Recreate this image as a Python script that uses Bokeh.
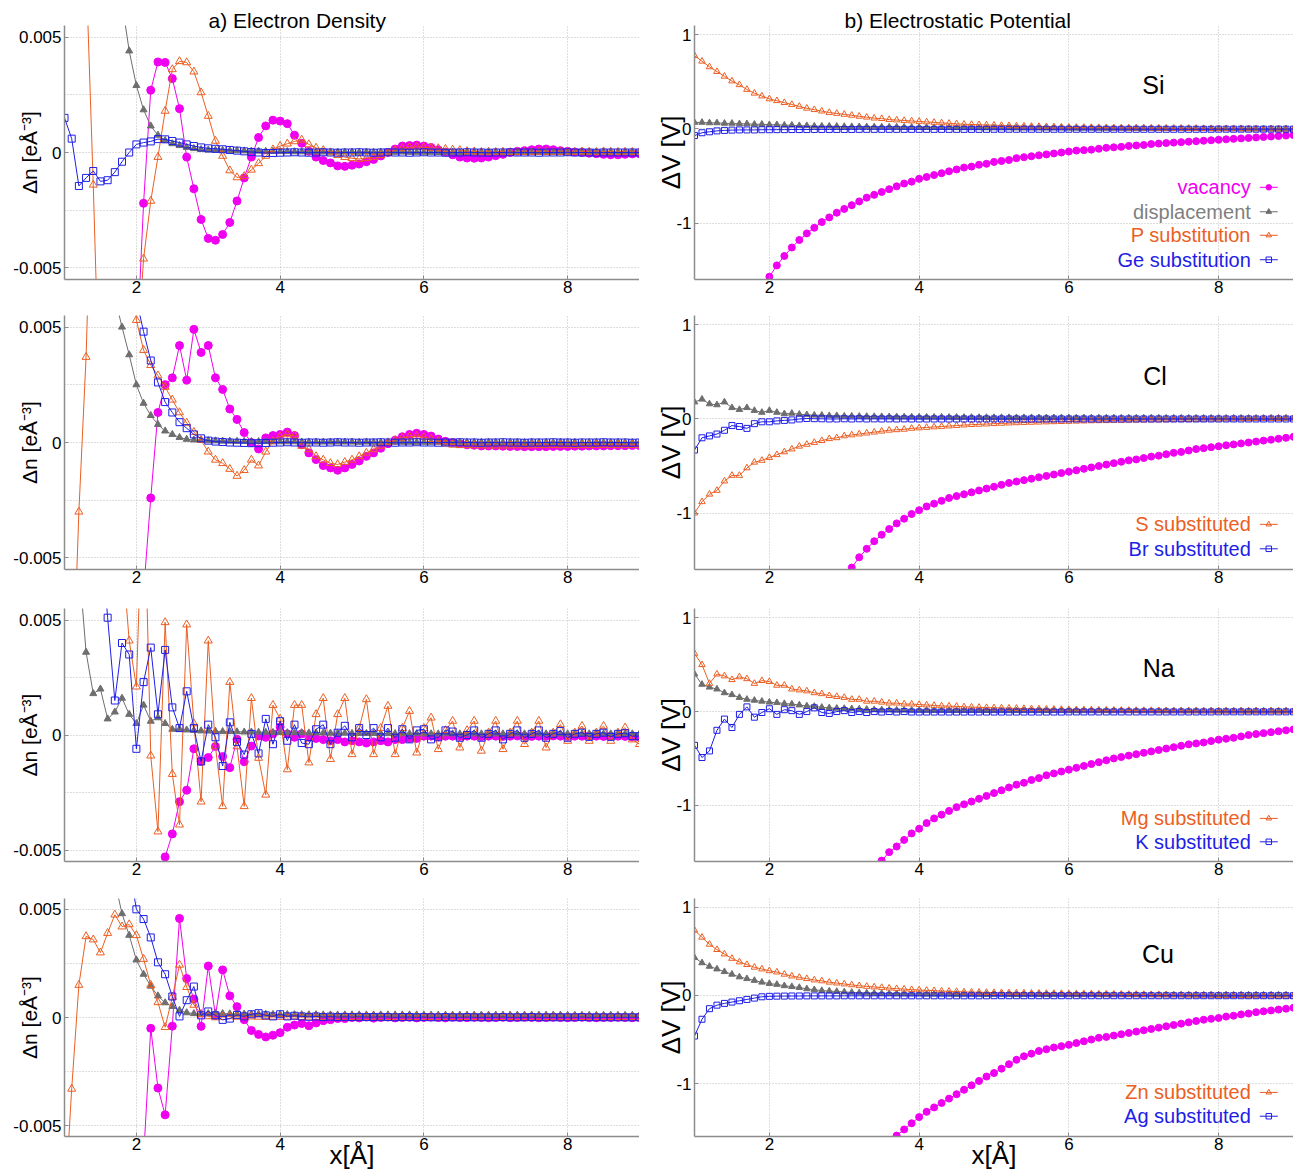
import numpy as np
from bokeh.plotting import figure
from bokeh.models import Range1d, FixedTicker, Label
from bokeh.layouts import column, row
from bokeh.embed import file_html
from bokeh.resources import INLINE

FONT = "Liberation Sans"

# radial distance [Å]
X = [1.0,1.1,1.2,1.3,1.4,1.5,1.6,1.7,1.8,1.9,
     2.0,2.1,2.2,2.3,2.4,2.5,2.6,2.7,2.8,2.9,
     3.0,3.1,3.2,3.3,3.4,3.5,3.6,3.7,3.8,3.9,
     4.0,4.1,4.2,4.3,4.4,4.5,4.6,4.7,4.8,4.9,
     5.0,5.1,5.2,5.3,5.4,5.5,5.6,5.7,5.8,5.9,
     6.0,6.1,6.2,6.3,6.4,6.5,6.6,6.7,6.8,6.9,
     7.0,7.1,7.2,7.3,7.4,7.5,7.6,7.7,7.8,7.9,
     8.0,8.1,8.2,8.3,8.4,8.5,8.6,8.7,8.8,8.9,
     9.0]

# ---------------- Si ----------------
# electron density change, in units of 1e-3 e/Å^3
si_dn_vac = [-40,-38,-35,-32,-28,-25,-22,-18,-15,-12,
             -9,-2.2,2.7,3.92,3.9,3.2,1.9,-0.2,-1.57,-2.9,
             -3.72,-3.8,-3.55,-3.03,-2.1,-1.1,-0.2,0.65,1.15,1.4,
             1.36,1.25,0.75,0.4,0.05,-0.2,-0.35,-0.45,-0.58,-0.6,
             -0.55,-0.5,-0.4,-0.3,-0.15,0.0,0.15,0.28,0.3,0.32,
             0.28,0.22,0.12,0.02,-0.1,-0.2,-0.24,-0.25,-0.24,-0.2,
             -0.14,-0.08,0.0,0.05,0.08,0.12,0.15,0.15,0.12,0.08,
             0.05,0.02,0.0,-0.03,-0.05,-0.08,-0.1,-0.1,-0.08,-0.06,
             -0.05]
si_dn_disp = [60,45,35,27,20,15,11,8.5,6.5,4.4,
              2.9,1.85,1.15,0.75,0.52,0.38,0.3,0.22,0.17,0.13,
              0.11,0.1,0.09,0.08,0.08,0.07,0.06,0.06,0.05,0.05,
              0.04,0.04,0.03,0.03,0.03,0.02,0.02,0.02,0.02,0.02,
              0.02,0.01,0.02,0.01,0.02,0.01,0.01,0.02,0.01,0.01,
              0.01,0.01,0.0,0.01,0.01,0.0,0.01,0.0,0.01,0.0,
              0.01,0.0,0.01,0.0,0.0,0.01,0.0,0.0,0.01,0.0,
              0.0,0.01,0.0,0.0,0.0,0.01,0.0,0.0,0.0,0.0,
              0.0]
si_dn_p = [30,25,18,8,-1.4,-12,-20,-22,-20,-15,
           -9.5,-4.6,-2.1,-0.2,1.8,3.6,3.95,3.9,3.5,2.6,
           1.58,0.5,-0.15,-0.78,-1.08,-1.03,-0.75,-0.47,-0.15,0.13,
           0.28,0.38,0.48,0.55,0.35,0.2,0.1,0.0,-0.12,-0.2,
           -0.25,-0.28,-0.25,-0.2,-0.12,-0.02,0.1,0.18,0.22,0.25,
           0.22,0.2,0.18,0.15,0.12,0.1,0.05,0.04,0.02,0.03,
           0.02,0.03,0.01,0.02,0.01,0.02,0.03,0.02,0.01,0.02,
           0.03,0.02,0.04,0.03,0.02,0.04,0.03,0.02,0.03,0.02,
           0.02]
si_dn_ge = [1.5,0.6,-1.45,-1.1,-0.8,-1.25,-1.2,-0.85,-0.4,0.0,
            0.35,0.43,0.48,0.58,0.57,0.5,0.43,0.35,0.28,0.22,
            0.18,0.16,0.14,0.11,0.08,0.05,0.02,0.0,-0.02,-0.02,
            -0.01,0.0,0.01,0.0,-0.01,0.0,0.01,0.0,-0.01,0.0,
            0.0,0.01,0.0,-0.01,0.0,0.01,0.0,0.0,-0.01,0.0,
            0.01,0.0,0.0,-0.01,0.0,0.0,0.01,0.0,0.0,-0.01,
            0.0,0.0,0.01,0.0,0.0,0.0,-0.01,0.0,0.0,0.0,
            0.01,0.0,0.0,0.0,-0.01,0.0,0.0,0.0,0.0,0.0,
            0.0]
# electrostatic potential change [V]
si_dv_vac = [-4.8,-4.2,-3.7,-3.3,-2.9,-2.6,-2.35,-2.1,-1.9,-1.72,
             -1.57,-1.45,-1.35,-1.26,-1.18,-1.11,-1.05,-0.99,-0.94,-0.89,
             -0.85,-0.81,-0.77,-0.73,-0.70,-0.67,-0.64,-0.61,-0.58,-0.56,
             -0.53,-0.51,-0.49,-0.47,-0.45,-0.43,-0.41,-0.40,-0.38,-0.37,
             -0.35,-0.34,-0.33,-0.31,-0.30,-0.29,-0.28,-0.27,-0.26,-0.25,
             -0.24,-0.23,-0.225,-0.22,-0.21,-0.20,-0.195,-0.19,-0.18,-0.175,
             -0.17,-0.16,-0.155,-0.15,-0.145,-0.14,-0.135,-0.13,-0.125,-0.12,
             -0.115,-0.11,-0.105,-0.10,-0.095,-0.09,-0.085,-0.08,-0.075,-0.07,
             -0.065]
si_dv_disp = [0.07,0.07,0.065,0.065,0.06,0.06,0.055,0.055,0.05,0.05,
              0.045,0.045,0.04,0.04,0.035,0.035,0.03,0.03,0.03,0.028,
              0.026,0.025,0.024,0.023,0.022,0.021,0.02,0.02,0.019,0.018,
              0.017,0.016,0.015,0.015,0.014,0.013,0.013,0.012,0.012,0.011,
              0.011,0.01,0.01,0.01,0.009,0.009,0.009,0.008,0.008,0.008,
              0.007,0.007,0.007,0.007,0.006,0.006,0.006,0.006,0.005,0.005,
              0.005,0.005,0.005,0.004,0.004,0.004,0.004,0.004,0.003,0.003,
              0.003,0.003,0.003,0.003,0.002,0.002,0.002,0.002,0.002,0.002,
              0.002]
si_dv_p = [0.78,0.72,0.66,0.61,0.56,0.51,0.47,0.42,0.38,0.35,
           0.32,0.30,0.28,0.26,0.24,0.22,0.205,0.19,0.175,0.165,
           0.155,0.145,0.135,0.125,0.115,0.11,0.10,0.095,0.09,0.085,
           0.08,0.075,0.07,0.065,0.06,0.055,0.05,0.048,0.045,0.042,
           0.04,0.037,0.035,0.032,0.03,0.028,0.026,0.024,0.022,0.02,
           0.018,0.017,0.016,0.015,0.014,0.013,0.012,0.011,0.01,0.01,
           0.009,0.008,0.008,0.007,0.006,0.006,0.005,0.004,0.004,0.003,
           0.002,0.002,0.001,0.0,0.0,-0.001,-0.002,-0.002,-0.003,-0.003,
           -0.004]
si_dv_ge = [-0.07,-0.04,-0.03,-0.02,-0.015,-0.012,-0.01,-0.01,-0.01,-0.008,
            -0.008,-0.007,-0.007,-0.006,-0.006,-0.006,-0.005,-0.005,-0.005,-0.005,
            -0.005,-0.005,-0.004,-0.004,-0.004,-0.004,-0.004,-0.004,-0.004,-0.004,
            -0.004,-0.004,-0.004,-0.004,-0.004,-0.004,-0.004,-0.004,-0.004,-0.004,
            -0.003,-0.003,-0.003,-0.003,-0.003,-0.003,-0.003,-0.003,-0.003,-0.003,
            -0.003,-0.003,-0.003,-0.003,-0.003,-0.003,-0.003,-0.003,-0.003,-0.003,
            -0.003,-0.003,-0.003,-0.003,-0.003,-0.003,-0.003,-0.003,-0.003,-0.003,
            -0.002,-0.002,-0.002,-0.002,-0.002,-0.002,-0.002,-0.002,-0.002,-0.002,
            -0.002]

# ---------------- Cl ----------------
cl_dn_vac = [-40,-38,-35,-32,-29,-26,-23,-20,-17,-14.5,
             -12,-6.5,-2.4,1.3,2.5,2.8,4.2,2.7,4.9,3.9,
             4.2,2.8,2.3,1.45,1.0,0.43,0.0,-0.28,0.2,0.3,
             0.35,0.45,0.3,-0.1,-0.45,-0.74,-1.0,-1.1,-1.2,-1.1,
             -0.95,-0.8,-0.6,-0.45,-0.25,-0.05,0.1,0.25,0.35,0.4,
             0.35,0.28,0.15,0.05,0.0,-0.05,-0.1,-0.12,-0.15,-0.15,
             -0.15,-0.16,-0.17,-0.17,-0.18,-0.18,-0.18,-0.18,-0.17,-0.17,
             -0.17,-0.16,-0.16,-0.15,-0.15,-0.15,-0.14,-0.14,-0.14,-0.13,
             -0.13]
cl_dn_disp = [30,24,19,15,12,9.5,7.5,6.3,5.0,3.8,
              2.5,1.7,1.17,0.78,0.5,0.35,0.22,0.14,0.11,0.09,
              0.08,0.07,0.06,0.06,0.05,0.05,0.04,0.04,0.04,0.03,
              0.03,0.03,0.03,0.02,0.02,0.02,0.02,0.02,0.02,0.02,
              0.02,0.01,0.02,0.01,0.01,0.02,0.01,0.01,0.01,0.01,
              0.01,0.01,0.01,0.01,0.01,0.01,0.01,0.01,0.01,0.01,
              0.01,0.0,0.01,0.01,0.0,0.01,0.0,0.01,0.0,0.01,
              0.0,0.01,0.0,0.0,0.01,0.0,0.0,0.01,0.0,0.0,
              0.0]
cl_dn_s = [-25,-12,-3.0,3.7,14,25,30,28,22,12,
           5.3,4.0,3.35,2.9,2.4,1.85,1.3,0.85,0.45,0.1,
           -0.4,-0.75,-0.9,-1.15,-1.45,-1.2,-0.75,-1.0,-0.4,0.05,
           0.25,0.35,0.3,-0.15,-0.3,-0.6,-0.75,-0.9,-0.95,-0.85,
           -0.75,-0.6,-0.45,-0.3,-0.15,0.0,0.1,0.2,0.25,0.28,
           0.22,0.15,0.05,-0.05,-0.1,-0.12,-0.12,-0.13,-0.13,-0.14,
           -0.14,-0.14,-0.13,-0.13,-0.13,-0.13,-0.12,-0.12,-0.12,-0.12,
           -0.12,-0.12,-0.12,-0.12,-0.11,-0.11,-0.11,-0.11,-0.11,-0.11,
           -0.11]
cl_dn_br = [60,50,42,35,28,22,17,13,10,7.5,
            6.2,4.8,3.55,2.6,1.75,1.3,0.88,0.62,0.35,0.18,
            0.08,0.04,0.02,0.0,-0.01,-0.02,-0.03,-0.03,-0.02,-0.01,
            0.0,0.01,0.0,-0.01,0.0,0.0,-0.01,0.0,0.01,0.0,
            0.0,-0.01,0.0,0.0,0.01,0.0,-0.01,0.0,0.0,0.01,
            0.0,0.0,-0.01,0.0,0.0,0.01,0.0,0.0,-0.01,0.0,
            0.0,0.01,0.0,0.0,-0.01,0.0,0.0,0.0,0.01,0.0,
            0.0,-0.01,0.0,0.0,0.0,0.01,0.0,0.0,0.0,-0.01,
            0.0]
cl_dv_vac = [-9.0,-8.1,-7.3,-6.6,-6.0,-5.4,-4.9,-4.5,-4.1,-3.8,
             -3.5,-3.25,-3.0,-2.8,-2.6,-2.4,-2.25,-2.1,-1.95,-1.82,
             -1.7,-1.58,-1.47,-1.38,-1.3,-1.23,-1.17,-1.11,-1.06,-1.01,
             -0.97,-0.93,-0.90,-0.87,-0.84,-0.82,-0.80,-0.78,-0.76,-0.74,
             -0.72,-0.70,-0.68,-0.665,-0.65,-0.635,-0.62,-0.605,-0.59,-0.575,
             -0.56,-0.545,-0.53,-0.515,-0.50,-0.485,-0.47,-0.455,-0.44,-0.43,
             -0.415,-0.40,-0.39,-0.375,-0.36,-0.35,-0.335,-0.32,-0.31,-0.30,
             -0.29,-0.28,-0.27,-0.26,-0.25,-0.24,-0.23,-0.22,-0.21,-0.20,
             -0.19]
cl_dv_disp = [0.18,0.21,0.16,0.15,0.18,0.12,0.1,0.12,0.09,0.07,
              0.09,0.07,0.055,0.06,0.05,0.045,0.04,0.04,0.035,0.035,
              0.03,0.03,0.028,0.027,0.026,0.025,0.024,0.023,0.022,0.021,
              0.02,0.02,0.019,0.019,0.018,0.018,0.017,0.017,0.016,0.016,
              0.015,0.015,0.015,0.014,0.014,0.014,0.013,0.013,0.013,0.012,
              0.012,0.012,0.012,0.011,0.011,0.011,0.011,0.01,0.01,0.01,
              0.01,0.01,0.01,0.009,0.009,0.009,0.009,0.009,0.008,0.008,
              0.008,0.008,0.008,0.008,0.007,0.007,0.007,0.007,0.007,0.007,
              0.007]
cl_dv_s = [-1.0,-0.88,-0.8,-0.76,-0.66,-0.6,-0.6,-0.52,-0.46,-0.44,
           -0.41,-0.38,-0.35,-0.32,-0.29,-0.27,-0.25,-0.23,-0.21,-0.20,
           -0.18,-0.17,-0.16,-0.15,-0.14,-0.13,-0.12,-0.115,-0.11,-0.10,
           -0.095,-0.09,-0.085,-0.08,-0.075,-0.07,-0.065,-0.06,-0.057,-0.054,
           -0.05,-0.047,-0.044,-0.041,-0.038,-0.036,-0.034,-0.032,-0.03,-0.028,
           -0.026,-0.024,-0.022,-0.02,-0.019,-0.018,-0.016,-0.015,-0.014,-0.013,
           -0.012,-0.011,-0.01,-0.009,-0.008,-0.007,-0.006,-0.005,-0.004,-0.003,
           -0.002,-0.001,0.0,0.001,0.002,0.003,0.004,0.005,0.006,0.007,
           0.008]
cl_dv_br = [-0.33,-0.2,-0.18,-0.16,-0.12,-0.07,-0.08,-0.1,-0.05,-0.03,
            -0.03,-0.02,-0.015,-0.01,0.0,0.005,0.003,0.002,0.0,0.0,
            0.002,0.0,0.002,0.0,0.001,0.0,0.001,0.0,0.001,0.0,
            0.0,0.0,0.0,0.0,0.0,0.0,0.0,0.0,0.0,0.0,
            0.0,0.0,0.0,0.0,0.0,0.0,0.0,0.0,0.0,0.0,
            0.0,0.0,0.0,0.0,0.0,0.0,0.0,0.0,0.0,0.0,
            0.0,0.0,0.0,0.0,0.0,0.0,0.0,0.0,0.0,0.0,
            0.0,0.0,0.0,0.0,0.0,0.0,0.0,0.0,0.0,0.0,
            0.0]

# ---------------- Na ----------------
na_dn_vac = [-40,-38,-36,-34,-32,-30,-28,-26,-24,-22,
             -20,-18,-15,-10,-5.3,-4.3,-2.9,-2.4,-0.6,-1.15,
             -0.98,-0.5,-0.94,-1.42,-0.19,-1.16,-0.48,-0.04,-0.1,0.05,
             0.35,0.05,-0.1,0.05,-0.1,-0.15,-0.2,-0.25,-0.2,-0.3,
             -0.25,-0.3,-0.35,-0.3,-0.25,-0.3,-0.2,-0.2,-0.15,-0.15,
             -0.05,-0.05,-0.08,-0.05,-0.05,-0.06,-0.05,-0.05,-0.07,-0.05,
             -0.05,-0.06,-0.05,-0.04,-0.05,-0.06,-0.05,-0.05,-0.04,-0.05,
             -0.06,-0.05,-0.05,-0.04,-0.05,-0.06,-0.05,-0.05,-0.06,-0.08,
             -0.1]
na_dn_disp = [15,11,7.5,3.6,1.8,2.0,0.7,1.0,1.6,0.9,
              0.5,1.3,0.6,0.75,0.5,0.25,0.25,0.22,0.2,0.18,
              0.17,0.16,0.15,0.15,0.14,0.13,0.13,0.12,0.12,0.11,
              0.11,0.1,0.1,0.1,0.09,0.09,0.09,0.08,0.08,0.08,
              0.07,0.07,0.07,0.07,0.06,0.06,0.06,0.06,0.06,0.06,
              0.05,0.05,0.05,0.05,0.05,0.05,0.05,0.05,0.05,0.05,
              0.05,0.05,0.05,0.05,0.05,0.05,0.05,0.05,0.05,0.05,
              0.05,0.05,0.05,0.05,0.05,0.05,0.05,0.05,0.05,0.05,
              0.05]
na_dn_mg = [30,30,30,25,20,15,12,10,8,4.1,
            2.1,12,-0.9,-4.2,4.9,-1.7,-3.9,4.8,0.5,-2.9,
            4.1,-0.5,-3.1,2.3,-0.5,-3.1,1.6,-1.0,-2.6,1.3,
            0.7,-1.5,1.3,1.3,-1.2,0.9,1.6,-1.05,0.9,1.6,
            -0.84,0.3,1.55,-0.84,0.3,1.26,-0.84,0.3,1.04,-0.77,
            0.3,0.75,-0.62,0.2,0.61,-0.55,0.2,0.61,-0.69,0.1,
            0.61,-0.62,0.1,0.61,-0.4,0.1,0.61,-0.55,0.1,0.46,
            -0.26,0.1,0.39,-0.26,0.1,0.39,-0.26,0.1,0.32,-0.2,
            -0.4]
na_dn_k = [40,30,22,16,11,9,5.1,1.5,4.0,3.5,
           -0.6,2.3,3.8,0.9,3.7,1.2,0.3,1.9,0.3,-1.15,
           0.45,-0.1,-1.35,0.55,-0.3,-0.85,0.05,-0.8,0.7,-0.4,
           0.6,-0.25,0.45,-0.35,-0.4,0.25,0.45,-0.4,0.1,0.4,
           -0.1,0.3,0.0,0.3,-0.1,0.3,-0.12,0.25,-0.19,0.2,
           0.25,-0.19,-0.1,0.2,0.15,-0.12,0.0,0.2,-0.12,0.05,
           0.2,-0.19,0.05,0.2,-0.12,0.05,0.2,-0.12,0.05,0.17,
           -0.12,0.05,0.1,-0.08,0.05,0.1,-0.08,0.05,0.08,-0.05,
           -0.05]
na_dv_vac = [-9.0,-8.1,-7.3,-6.6,-6.0,-5.5,-5.05,-4.65,-4.3,-4.0,
             -3.72,-3.48,-3.26,-3.06,-2.88,-2.71,-2.56,-2.42,-2.29,-2.17,
             -2.06,-1.96,-1.86,-1.77,-1.68,-1.59,-1.5,-1.44,-1.37,-1.3,
             -1.25,-1.19,-1.14,-1.10,-1.06,-1.02,-0.99,-0.96,-0.93,-0.90,
             -0.87,-0.84,-0.81,-0.78,-0.76,-0.73,-0.71,-0.68,-0.66,-0.64,
             -0.62,-0.60,-0.58,-0.56,-0.54,-0.52,-0.50,-0.485,-0.47,-0.455,
             -0.44,-0.425,-0.41,-0.395,-0.38,-0.365,-0.35,-0.34,-0.33,-0.315,
             -0.30,-0.29,-0.28,-0.265,-0.25,-0.24,-0.23,-0.22,-0.21,-0.20,
             -0.19]
na_dv_disp = [0.4,0.29,0.26,0.24,0.2,0.18,0.15,0.13,0.12,0.11,
              0.1,0.095,0.085,0.08,0.07,0.06,0.055,0.045,0.04,0.035,
              0.033,0.03,0.027,0.024,0.02,0.018,0.017,0.016,0.015,0.014,
              0.013,0.013,0.012,0.012,0.011,0.011,0.01,0.01,0.01,0.01,
              0.009,0.009,0.009,0.009,0.009,0.009,0.009,0.009,0.009,0.009,
              0.008,0.008,0.008,0.008,0.008,0.008,0.008,0.008,0.008,0.008,
              0.007,0.007,0.007,0.007,0.007,0.007,0.007,0.007,0.007,0.007,
              0.006,0.006,0.006,0.006,0.006,0.006,0.006,0.006,0.006,0.006,
              0.006]
na_dv_mg = [0.62,0.5,0.3,0.4,0.38,0.34,0.37,0.35,0.3,0.33,
            0.32,0.28,0.28,0.24,0.23,0.22,0.2,0.19,0.17,0.16,
            0.15,0.13,0.13,0.11,0.11,0.10,0.09,0.09,0.08,0.08,
            0.075,0.07,0.065,0.06,0.058,0.055,0.05,0.048,0.045,0.042,
            0.04,0.038,0.036,0.034,0.032,0.03,0.028,0.026,0.024,0.022,
            0.02,0.019,0.018,0.017,0.016,0.015,0.014,0.013,0.012,0.011,
            0.01,0.01,0.009,0.009,0.008,0.008,0.007,0.007,0.006,0.006,
            0.005,0.005,0.005,0.005,0.004,0.004,0.004,0.004,0.004,0.004,
            0.004]
na_dv_k = [-0.36,-0.49,-0.42,-0.2,-0.08,-0.17,-0.03,0.05,-0.06,-0.01,
           0.03,-0.03,0.02,0.01,-0.03,0.0,0.04,-0.01,-0.02,0.0,
           0.01,-0.01,0.0,-0.01,0.0,-0.005,0.0,-0.005,0.0,-0.005,
           -0.005,-0.005,-0.005,-0.005,-0.005,-0.005,-0.005,-0.005,-0.005,-0.005,
           -0.005,-0.005,-0.005,-0.005,-0.005,-0.005,-0.005,-0.005,-0.005,-0.005,
           -0.004,-0.004,-0.004,-0.004,-0.004,-0.004,-0.004,-0.004,-0.004,-0.004,
           -0.004,-0.004,-0.004,-0.004,-0.004,-0.004,-0.004,-0.004,-0.004,-0.004,
           -0.003,-0.003,-0.003,-0.003,-0.003,-0.003,-0.003,-0.003,-0.003,-0.003,
           -0.003]

# ---------------- Cu ----------------
cu_dn_vac = [-40,-38,-35,-32,-29,-26,-23,-20,-17,-14.5,
             -12,-6.5,-0.5,-3.26,-4.5,-0.4,4.58,1.8,0.85,-0.41,
             2.38,0.1,2.2,1.0,0.5,-0.1,-0.6,-0.78,-0.9,-0.82,
             -0.7,-0.45,-0.35,-0.28,-0.38,-0.25,-0.15,-0.1,-0.05,-0.05,
             0.0,-0.02,0.02,-0.03,0.0,0.02,-0.02,0.0,0.01,-0.02,
             0.0,0.02,0.0,-0.02,0.01,0.0,-0.01,0.01,0.0,-0.01,
             0.0,0.01,-0.01,0.0,0.01,0.0,-0.01,0.0,0.01,0.0,
             -0.01,0.0,0.01,0.0,-0.01,0.0,0.0,0.01,0.0,-0.01,
             0.0]
cu_dn_disp = [40,33,27,21,16,12,9,6.3,4.8,3.8,
              2.66,2.0,1.45,1.0,0.68,0.51,0.33,0.22,0.18,0.17,
              0.18,0.2,0.18,0.17,0.16,0.16,0.15,0.15,0.15,0.14,
              0.14,0.14,0.13,0.13,0.13,0.13,0.12,0.12,0.12,0.12,
              0.12,0.12,0.12,0.12,0.12,0.12,0.12,0.12,0.12,0.12,
              0.11,0.11,0.11,0.11,0.11,0.11,0.11,0.11,0.11,0.11,
              0.11,0.11,0.11,0.11,0.11,0.11,0.11,0.11,0.11,0.11,
              0.1,0.1,0.1,0.1,0.1,0.1,0.1,0.1,0.1,0.1,
              0.1]
cu_dn_zn = [-9,-3.3,1.5,3.75,3.6,3.0,3.9,4.75,4.2,4.3,
            3.8,2.7,1.5,0.7,-0.45,0.95,2.43,1.4,0.58,0.15,
            0.05,0.0,0.02,0.05,0.03,0.02,0.04,0.03,0.02,0.03,
            0.02,0.03,0.04,0.02,0.03,0.02,0.01,0.03,0.02,0.02,
            0.02,0.01,0.02,0.03,0.02,0.01,0.02,0.02,0.01,0.02,
            0.01,0.02,0.01,0.01,0.02,0.01,0.01,0.02,0.01,0.01,
            0.01,0.01,0.02,0.01,0.01,0.01,0.02,0.01,0.01,0.01,
            0.01,0.01,0.01,0.02,0.01,0.01,0.01,0.01,0.01,0.01,
            0.01]
cu_dn_ag = [60,50,40,32,25,19,14,11,8.5,7.0,
            5.0,4.55,3.7,2.55,2.0,0.97,0.05,0.8,1.43,0.1,
            0.28,0.1,-0.11,-0.05,0.12,0.05,0.15,0.2,0.1,0.05,
            0.15,0.05,0.08,0.05,0.03,0.05,0.02,0.04,0.02,0.03,
            0.02,0.03,0.02,0.02,0.03,0.02,0.01,0.02,0.02,0.01,
            0.02,0.01,0.01,0.02,0.01,0.01,0.02,0.01,0.01,0.01,
            0.01,0.02,0.01,0.01,0.01,0.02,0.01,0.01,0.01,0.01,
            0.01,0.01,0.02,0.01,0.01,0.01,0.01,0.01,0.01,0.01,
            0.01]
cu_dv_vac = [-9.5,-8.6,-7.8,-7.1,-6.5,-5.9,-5.4,-5.0,-4.6,-4.25,
             -3.95,-3.67,-3.42,-3.19,-2.98,-2.79,-2.62,-2.46,-2.32,-2.2,
             -2.1,-2.0,-1.92,-1.84,-1.77,-1.71,-1.65,-1.59,-1.52,-1.45,
             -1.38,-1.32,-1.27,-1.22,-1.17,-1.12,-1.07,-1.02,-0.97,-0.92,
             -0.88,-0.83,-0.78,-0.73,-0.69,-0.66,-0.63,-0.61,-0.59,-0.575,
             -0.56,-0.54,-0.52,-0.50,-0.48,-0.47,-0.455,-0.44,-0.425,-0.41,
             -0.395,-0.38,-0.365,-0.35,-0.335,-0.32,-0.305,-0.29,-0.275,-0.265,
             -0.255,-0.24,-0.23,-0.215,-0.205,-0.19,-0.18,-0.17,-0.16,-0.15,
             -0.14]
cu_dv_disp = [0.43,0.37,0.33,0.3,0.27,0.24,0.21,0.19,0.17,0.15,
              0.135,0.125,0.11,0.1,0.09,0.075,0.065,0.055,0.05,0.045,
              0.04,0.035,0.03,0.028,0.025,0.022,0.02,0.019,0.018,0.017,
              0.016,0.015,0.015,0.014,0.014,0.013,0.013,0.012,0.012,0.011,
              0.011,0.011,0.01,0.01,0.01,0.01,0.009,0.009,0.009,0.009,
              0.008,0.008,0.008,0.008,0.008,0.007,0.007,0.007,0.007,0.007,
              0.006,0.006,0.006,0.006,0.006,0.006,0.006,0.005,0.005,0.005,
              0.005,0.005,0.005,0.005,0.005,0.005,0.005,0.005,0.005,0.005,
              0.005]
cu_dv_zn = [0.74,0.66,0.58,0.52,0.47,0.42,0.38,0.35,0.32,0.3,
            0.28,0.265,0.24,0.22,0.205,0.19,0.175,0.165,0.15,0.14,
            0.13,0.12,0.11,0.103,0.096,0.09,0.083,0.077,0.072,0.066,
            0.062,0.058,0.054,0.05,0.047,0.044,0.04,0.038,0.036,0.034,
            0.032,0.031,0.03,0.028,0.027,0.026,0.025,0.023,0.022,0.021,
            0.02,0.019,0.018,0.017,0.016,0.015,0.014,0.013,0.012,0.011,
            0.01,0.009,0.008,0.007,0.006,0.005,0.004,0.003,0.002,0.001,
            0.0,-0.001,-0.002,-0.003,-0.004,-0.005,-0.006,-0.007,-0.008,-0.009,
            -0.01]
cu_dv_ag = [-0.46,-0.27,-0.15,-0.11,-0.09,-0.075,-0.06,-0.045,-0.03,-0.015,
            -0.01,-0.008,-0.007,-0.006,-0.006,-0.005,-0.005,-0.005,-0.005,-0.005,
            -0.004,-0.004,-0.004,-0.004,-0.004,-0.004,-0.004,-0.004,-0.004,-0.004,
            -0.004,-0.004,-0.004,-0.004,-0.004,-0.004,-0.004,-0.004,-0.004,-0.004,
            -0.003,-0.003,-0.003,-0.003,-0.003,-0.003,-0.003,-0.003,-0.003,-0.003,
            -0.003,-0.003,-0.003,-0.003,-0.003,-0.003,-0.003,-0.003,-0.003,-0.003,
            -0.003,-0.003,-0.003,-0.003,-0.003,-0.003,-0.003,-0.003,-0.003,-0.003,
            -0.003,-0.003,-0.003,-0.003,-0.003,-0.003,-0.003,-0.003,-0.003,-0.003,
            -0.003]

ELEMENTS = ["Si", "Cl", "Na", "Cu"]
LEGENDS = [
    [("vac", "vacancy"), ("disp", "displacement"), ("org", "P substitution"), ("blu", "Ge substitution")],
    [("org", "S substituted"), ("blu", "Br substituted")],
    [("org", "Mg substituted"), ("blu", "K substituted")],
    [("org", "Zn substituted"), ("blu", "Ag substituted")],
]
DN = [
    dict(vac=si_dn_vac, disp=si_dn_disp, org=si_dn_p, blu=si_dn_ge),
    dict(vac=cl_dn_vac, disp=cl_dn_disp, org=cl_dn_s, blu=cl_dn_br),
    dict(vac=na_dn_vac, disp=na_dn_disp, org=na_dn_mg, blu=na_dn_k),
    dict(vac=cu_dn_vac, disp=cu_dn_disp, org=cu_dn_zn, blu=cu_dn_ag),
]
DV = [
    dict(vac=si_dv_vac, disp=si_dv_disp, org=si_dv_p, blu=si_dv_ge),
    dict(vac=cl_dv_vac, disp=cl_dv_disp, org=cl_dv_s, blu=cl_dv_br),
    dict(vac=na_dv_vac, disp=na_dv_disp, org=na_dv_mg, blu=na_dv_k),
    dict(vac=cu_dv_vac, disp=cu_dv_disp, org=cu_dv_zn, blu=cu_dv_ag),
]
for i in range(4):
    for d in (DN[i], DV[i]):
        for k, v in d.items():
            if len(v) != len(X):
                raise ValueError(f"{ELEMENTS[i]} {k}: {len(v)} values")

# ---------------- styling ----------------
STYLE = {
    "vac": ("#F000F0", "circle", True),
    "disp": ("#6E6E6E", "triangle", True),
    "org": ("#EB5F23", "triangle", False),
    "blu": ("#1E1EE6", "square", False),
}
TEXT_COLOR = {"vac": "#F000F0", "disp": "#7F7F7F", "org": "#EB5F23", "blu": "#1E1EE6"}
SIZE_DN = {"vac": 8, "disp": 7, "org": 8, "blu": 7}
SIZE_DV = {"vac": 7, "disp": 6.5, "org": 6.5, "blu": 6}
AX = "#8c8c8c"

# (figure height, top border, bottom border) per row
ROWS = [(301, 25, 22), (290, 14, 22), (292, 17, 22), (292, 15, 39)]
LEFT_W, RIGHT_W = 639, 654
LEFT_BORDER, RIGHT_BORDER = 64, 55
DN_RANGE = (-0.0055, 0.0055)
DV_RANGE = (-1.6, 1.1)

LEGEND_Y = [[-0.62, -0.88, -1.13, -1.39], [-1.12, -1.38], [-1.14, -1.39], [-1.10, -1.37]]
LEGEND_TEXT_X, LEGEND_LINE = 8.43, (8.55, 8.79)
ELEM_POS = [(7.13, 0.47), (7.15, 0.46), (7.2, 0.47), (7.19, 0.47)]


def make_fig(width, border_left, r, yrange, yticks, ygrid, ylabel, ylabel_size,
             ylabel_standoff, last):
    h, t, b = ROWS[r]
    p = figure(width=width, height=h, x_range=Range1d(1, 9), y_range=Range1d(*yrange),
               output_backend="svg", toolbar_location=None,
               min_border_left=border_left, min_border_right=0,
               min_border_top=t, min_border_bottom=b)
    p.outline_line_color = None
    p.background_fill_color = "white"
    p.border_fill_color = "white"
    for ax in (p.xaxis[0], p.yaxis[0]):
        ax.axis_line_color = AX
        ax.axis_line_width = 1.5
        ax.major_tick_line_color = AX
        ax.major_tick_in = 4
        ax.major_tick_out = 0
        ax.minor_tick_line_color = None
        ax.major_label_text_font = FONT
        ax.major_label_text_font_size = "17px"
        ax.major_label_text_color = "black"
        ax.axis_label_text_font = FONT
        ax.axis_label_text_font_style = "normal"
        ax.axis_label_text_color = "black"
    p.xaxis[0].ticker = FixedTicker(ticks=[2, 4, 6, 8])
    p.xaxis[0].major_label_standoff = 1
    p.yaxis[0].ticker = FixedTicker(ticks=yticks)
    p.yaxis[0].major_label_standoff = 3
    p.yaxis[0].axis_label = ylabel
    p.yaxis[0].axis_label_text_font_size = ylabel_size
    p.yaxis[0].axis_label_standoff = ylabel_standoff
    if last:
        p.xaxis[0].axis_label = "x[Å]"
        p.xaxis[0].axis_label_text_font_size = "26px"
        p.xaxis[0].axis_label_standoff = -13
    p.xgrid[0].ticker = FixedTicker(ticks=[2, 4, 6, 8])
    p.ygrid[0].ticker = FixedTicker(ticks=ygrid)
    for g in (p.xgrid[0], p.ygrid[0]):
        g.grid_line_color = "#bcbcbc"
        g.grid_line_dash = "1 2"
        g.grid_line_width = 1
    return p


def draw(p, data, sizes, scale):
    for kind in ("vac", "disp", "org", "blu"):
        col, mk, filled = STYLE[kind]
        yy = np.asarray(data[kind], dtype=float) * scale
        p.line(X, yy, line_color=col, line_width=1)
        p.scatter(X, yy, marker=mk, size=sizes[kind], line_color=col,
                  fill_color=col if filled else None, line_width=1)


def set_title(p, text, offset):
    p.title.text = text
    p.title.align = "left"
    p.title.offset = offset
    p.title.standoff = -13
    p.title.text_font = FONT
    p.title.text_font_size = "21px"
    p.title.text_font_style = "normal"
    p.title.text_color = "black"


rows = []
for r in range(4):
    last = r == 3
    pl = make_fig(LEFT_W, LEFT_BORDER, r, DN_RANGE, [-0.005, 0, 0.005],
                  [-0.005, -0.0025, 0, 0.0025, 0.005], "Δn [eÅ⁻³]", "21px", -31, last)
    pl.yaxis[0].major_label_overrides = {-0.005: "-0.005", 0: "0", 0.005: "0.005"}
    draw(pl, DN[r], SIZE_DN, 1e-3)

    pr = make_fig(RIGHT_W, RIGHT_BORDER, r, DV_RANGE, [-1, 0, 1], [-1, 0, 1],
                  "ΔV [V]", "26px", -13, last)
    pr.yaxis[0].major_label_overrides = {-1: "-1", 0: "0", 1: "1"}
    draw(pr, DV[r], SIZE_DV, 1.0)

    ex, ey = ELEM_POS[r]
    pr.add_layout(Label(x=ex, y=ey, text=ELEMENTS[r], text_align="center",
                        text_baseline="middle", text_font=FONT, text_font_size="25px",
                        text_color="black"))
    x0, x1 = LEGEND_LINE
    for (kind, text), ly in zip(LEGENDS[r], LEGEND_Y[r]):
        col, mk, filled = STYLE[kind]
        pr.add_layout(Label(x=LEGEND_TEXT_X, y=ly, text=text, text_align="right",
                            text_baseline="middle", text_font=FONT, text_font_size="20px",
                            text_color=TEXT_COLOR[kind]))
        pr.line([x0, x1], [ly, ly], line_color=col, line_width=1)
        pr.scatter([(x0 + x1) / 2], [ly], marker=mk, size=5.5, line_color=col,
                   fill_color=col if filled else None, line_width=1)

    if r == 0:
        set_title(pl, "a) Electron Density", 144)
        set_title(pr, "b) Electrostatic Potential", 150)
    rows.append(row(pl, pr))

layout = column(*rows)
html = file_html(layout, INLINE, title="Electron density and electrostatic potential")
open("out.html", "w", encoding="utf-8").write(html)
